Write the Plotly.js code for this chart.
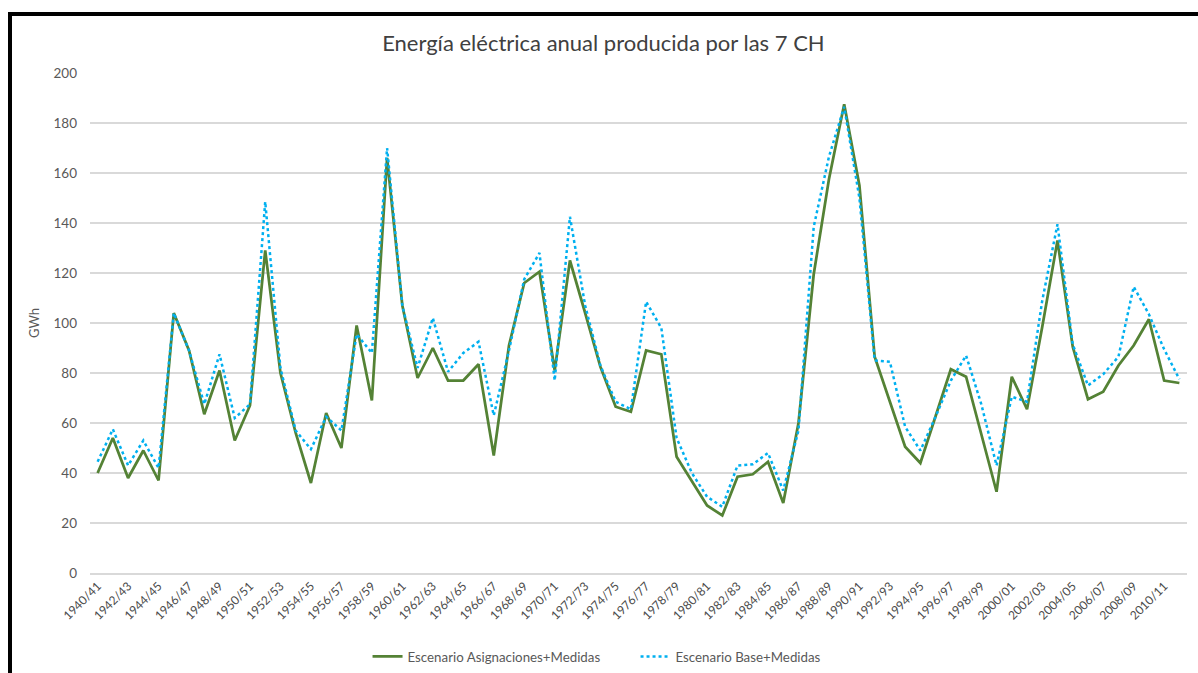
<!DOCTYPE html>
<html>
<head>
<meta charset="utf-8">
<script src="https://cdn.plot.ly/plotly-3.0.1.min.js"></script>
<style>
  html, body { margin: 0; padding: 0; background: #ffffff; }
  #wrap { position: relative; width: 1198px; height: 673px; overflow: hidden; }
  #chart { position: absolute; left: 0; top: 0; width: 1198px; height: 673px; }
  #frame { position: absolute; left: 8px; top: 12px; width: 1300px; height: 800px;
           border-left: 4px solid #000; border-top: 4px solid #000; pointer-events: none; }
</style>
</head>
<body>
<div id="wrap">
  <div id="chart"></div>
  <div id="frame"></div>
</div>
<script>
const categories = [
  "1940/41","1941/42","1942/43","1943/44","1944/45","1945/46","1946/47","1947/48","1948/49","1949/50",
  "1950/51","1951/52","1952/53","1953/54","1954/55","1955/56","1956/57","1957/58","1958/59","1959/60",
  "1960/61","1961/62","1962/63","1963/64","1964/65","1965/66","1966/67","1967/68","1968/69","1969/70",
  "1970/71","1971/72","1972/73","1973/74","1974/75","1975/76","1976/77","1977/78","1978/79","1979/80",
  "1980/81","1981/82","1982/83","1983/84","1984/85","1985/86","1986/87","1987/88","1988/89","1989/90",
  "1990/91","1991/92","1992/93","1993/94","1994/95","1995/96","1996/97","1997/98","1998/99","1999/00",
  "2000/01","2001/02","2002/03","2003/04","2004/05","2005/06","2006/07","2007/08","2008/09","2009/10",
  "2010/11","2011/12"
];

const tickLabels = [
  "1940/41","1942/43","1944/45","1946/47","1948/49","1950/51","1952/53","1954/55","1956/57","1958/59",
  "1960/61","1962/63","1964/65","1966/67","1968/69","1970/71","1972/73","1974/75","1976/77","1978/79",
  "1980/81","1982/83","1984/85","1986/87","1988/89","1990/91","1992/93","1994/95","1996/97","1998/99",
  "2000/01","2002/03","2004/05","2006/07","2008/09","2010/11"
];

const asignacionesMedidas = [
  40, 54, 38, 49, 37, 104, 89, 63.5, 81, 53,
  67, 129, 80, 56, 36, 64, 50, 99, 69, 166,
  107, 78, 90, 77, 77, 83.5, 47, 91, 116, 120.5,
  81, 125, 104, 82.5, 66.5, 64.5, 89, 87.5, 46.5, 37,
  27, 23, 38.5, 39.5, 44.5, 28, 60, 119.5, 157.5, 187.5,
  155, 86.5, 68.5, 50.5, 44, 62.5, 81.5, 78.5, 55.5, 32.5,
  78.5, 65.5, 98.5, 133, 90.5, 69.5, 72.5, 83, 91, 101.5,
  77, 76
];

const baseMedidas = [
  44.5, 57.5, 43, 53, 42, 104, 89, 67.5, 87.5, 62,
  67.5, 148.5, 82, 57, 49.5, 62.5, 57, 95.5, 88, 170,
  107, 82, 102, 80.5, 88, 92.5, 63, 89, 117.5, 128,
  77, 142.5, 107, 83, 68.5, 65.5, 108.5, 98, 54, 40,
  30.5, 26.5, 43, 43.5, 48, 33, 57, 138.5, 166.5, 186.5,
  150, 85, 84.5, 58.5, 49, 62.5, 77, 87, 67.5, 43,
  70.5, 68.5, 109, 139.5, 91.5, 75, 79.5, 86.5, 114.5, 103.5,
  89.5, 77.5
];

const seriesNames = ["Escenario Asignaciones+Medidas", "Escenario Base+Medidas"];
const yTicks = [0, 20, 40, 60, 80, 100, 120, 140, 160, 180, 200];

const FONT = "Lato, 'Open Sans', 'Liberation Sans', sans-serif";

const traces = [
  {
    type: "scatter", mode: "lines", name: seriesNames[0],
    x: categories, y: asignacionesMedidas,
    line: { color: "#548235", width: 2.75 }
  },
  {
    type: "scatter", mode: "lines", name: seriesNames[1],
    x: categories, y: baseMedidas,
    line: { color: "#00B0F0", width: 2.5, dash: "dot" }
  }
];

const layout = {
  width: 1198, height: 673,
  paper_bgcolor: "#ffffff", plot_bgcolor: "#ffffff",
  margin: { l: 89.5, r: 10.5, t: 73, b: 100, autoexpand: false },
  font: { family: FONT, color: "#595959", size: 12 },
  title: {
    text: "Energía eléctrica anual producida por las 7 CH",
    font: { family: FONT, size: 22, color: "#404040" },
    x: 0.468, xanchor: "center", y: 0.935, yanchor: "middle", xref: "paper"
  },
  xaxis: {
    type: "category",
    categoryorder: "array", categoryarray: categories,
    range: [-0.5, categories.length - 0.5],
    tickmode: "array", tickvals: tickLabels, ticktext: tickLabels,
    tickangle: -45,
    tickfont: { family: FONT, size: 12, color: "#4a4a4a" },
    showgrid: false, zeroline: false,
    showline: true, linecolor: "#d9d9d9", linewidth: 1.5,
    ticks: "", fixedrange: true
  },
  yaxis: {
    range: [0, 200],
    tickmode: "array", tickvals: yTicks,
    tickfont: { family: FONT, size: 13.5, color: "#595959" },
    showgrid: true, gridcolor: "#d9d9d9", gridwidth: 1.5,
    zeroline: false, showline: false, ticks: "",
    ticklabelstandoff: 12,
    title: { text: "GWh", font: { family: FONT, size: 13, color: "#595959" }, standoff: 10 },
    fixedrange: true
  },
  showlegend: true,
  legend: {
    orientation: "h",
    x: 0.253, xanchor: "left",
    yref: "container", y: 0.024, yanchor: "middle",
    font: { family: FONT, size: 13.3, color: "#595959" },
    bgcolor: "rgba(0,0,0,0)",
    itemwidth: 30,
    entrywidth: 223
  }
};

Plotly.newPlot("chart", traces, layout, { displayModeBar: false, staticPlot: true });
</script>
</body>
</html>
